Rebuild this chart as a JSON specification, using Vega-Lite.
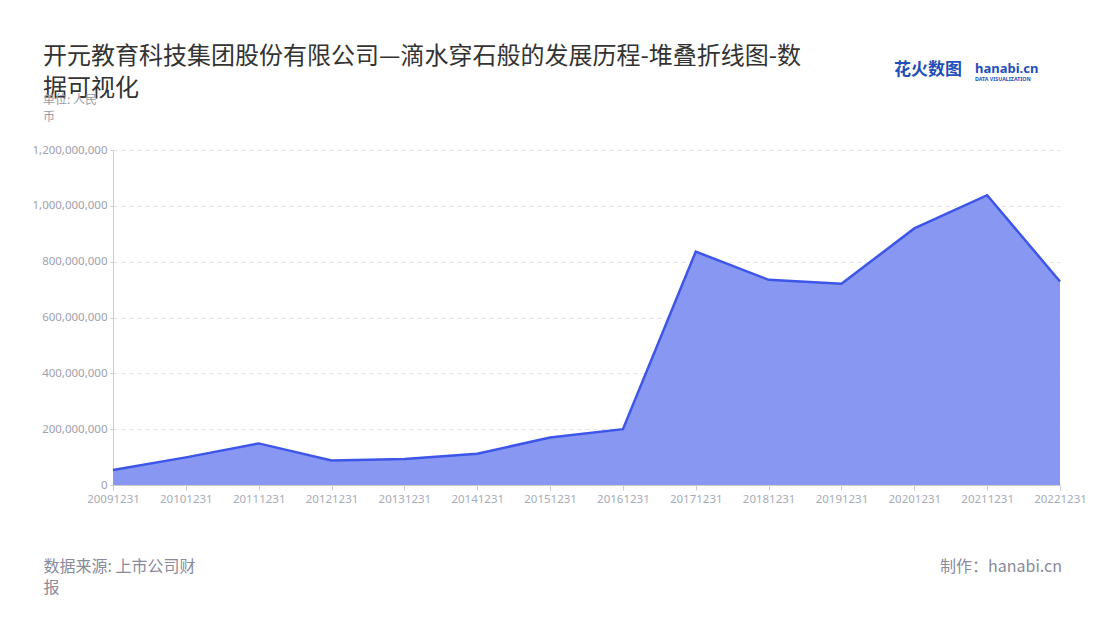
{
  "$schema": "https://vega.github.io/schema/vega-lite/v6.json",
  "autosize": {"type": "none"},
  "width": 947,
  "height": 335,
  "padding": {"left": 113, "top": 150, "right": 40, "bottom": 135},
  "background": "white",
  "title": {
    "text": ["开元教育科技集团股份有限公司—滴水穿石般的发展历程-堆叠折线图-数", "据可视化"],
    "subtitle": ["单位: 人民", "币"],
    "anchor": "start",
    "frame": "group",
    "dx": -70,
    "offset": -62,
    "font": "Noto Sans CJK SC",
    "fontSize": 24,
    "fontWeight": "normal",
    "color": "#333333",
    "lineHeight": 32,
    "subtitleFont": "Noto Sans CJK SC",
    "subtitleFontSize": 12,
    "subtitleColor": "#9a9aa6",
    "subtitleLineHeight": 17,
    "subtitlePadding": -6
  },
  "datasets": {
    "revenue": [
      {"date": "20091231", "value": 54000000},
      {"date": "20101231", "value": 99000000},
      {"date": "20111231", "value": 149000000},
      {"date": "20121231", "value": 88000000},
      {"date": "20131231", "value": 93000000},
      {"date": "20141231", "value": 112000000},
      {"date": "20151231", "value": 170000000},
      {"date": "20161231", "value": 200000000},
      {"date": "20171231", "value": 836000000},
      {"date": "20181231", "value": 735000000},
      {"date": "20191231", "value": 721000000},
      {"date": "20201231", "value": 919000000},
      {"date": "20211231", "value": 1038000000},
      {"date": "20221231", "value": 729000000}
    ],
    "notes": [
      {"t": "制作：hanabi.cn", "d": "20221231", "v": -293000000}
    ],
    "logo": [
      {"t": "花火数图", "d": "20221231", "v": 1487000000}
    ],
    "logo2": [
      {"t": "hanabi.cn", "d": "20221231", "v": 1490000000}
    ],
    "logo3": [
      {"t": "DATA VISUALIZATION", "d": "20221231", "v": 1454000000}
    ]
  },
  "layer": [
    {
      "data": {"name": "revenue"},
      "mark": {
        "type": "area",
        "color": "#8797f2",
        "fillOpacity": 1,
        "line": {"color": "#3d55e8", "strokeWidth": 2.5}
      },
      "encoding": {
        "x": {
          "field": "date",
          "type": "ordinal",
          "scale": {"type": "point", "padding": 0},
          "axis": {
            "labelAngle": 0,
            "labelFont": "Noto Sans",
            "labelFontSize": 11.5,
            "labelColor": "#a6abb9",
            "labelPadding": 3,
            "tickColor": "#cccccc",
            "tickSize": 5,
            "domainColor": "#cccccc",
            "grid": false,
            "title": ["数据来源: 上市公司财", "报"],
            "titleX": -70,
            "titleY": 73,
            "titleAlign": "left",
            "titleBaseline": "top",
            "titleFont": "Noto Sans CJK SC",
            "titleFontSize": 16,
            "titleFontWeight": "normal",
            "titleColor": "#8a8a9a",
            "titleLineHeight": 21
          }
        },
        "y": {
          "field": "value",
          "type": "quantitative",
          "scale": {"domain": [0, 1200000000], "nice": false},
          "axis": {
            "values": [0, 200000000, 400000000, 600000000, 800000000, 1000000000, 1200000000],
            "format": ",.0f",
            "title": null,
            "labelFont": "Noto Sans",
            "labelFontSize": 11.5,
            "labelColor": "#a0a0ac",
            "labelPadding": 3,
            "tickColor": "#cccccc",
            "tickSize": 3,
            "domainColor": "#cccccc",
            "grid": true,
            "gridColor": "#e2e2e2",
            "gridDash": [4, 4]
          }
        }
      }
    },
    {
      "data": {"name": "notes"},
      "mark": {"type": "text", "align": "right", "baseline": "middle", "dx": 2, "font": "Noto Sans CJK SC", "fontSize": 16, "color": "#8a8a9a", "clip": false},
      "encoding": {
        "x": {"field": "d", "type": "ordinal", "axis": null},
        "y": {"field": "v", "type": "quantitative", "axis": null},
        "text": {"field": "t"}
      }
    },
    {
      "data": {"name": "logo"},
      "mark": {"type": "text", "align": "right", "baseline": "middle", "dx": -98, "font": "Noto Sans CJK SC", "fontSize": 17, "fontWeight": "bold", "color": "#1f4fb8", "clip": false},
      "encoding": {
        "x": {"field": "d", "type": "ordinal", "axis": null},
        "y": {"field": "v", "type": "quantitative", "axis": null},
        "text": {"field": "t"}
      }
    },
    {
      "data": {"name": "logo2"},
      "mark": {"type": "text", "align": "left", "baseline": "middle", "dx": -85, "font": "Noto Sans", "fontSize": 13, "fontWeight": "bold", "color": "#1f4fb8", "clip": false},
      "encoding": {
        "x": {"field": "d", "type": "ordinal", "axis": null},
        "y": {"field": "v", "type": "quantitative", "axis": null},
        "text": {"field": "t"}
      }
    },
    {
      "data": {"name": "logo3"},
      "mark": {"type": "text", "align": "left", "baseline": "middle", "dx": -85, "font": "Noto Sans", "fontSize": 5.3, "fontWeight": "bold", "color": "#1f4fb8", "clip": false},
      "encoding": {
        "x": {"field": "d", "type": "ordinal", "axis": null},
        "y": {"field": "v", "type": "quantitative", "axis": null},
        "text": {"field": "t"}
      }
    }
  ],
  "resolve": {"axis": {"x": "independent", "y": "independent"}},
  "config": {
    "view": {"stroke": null}
  }
}
